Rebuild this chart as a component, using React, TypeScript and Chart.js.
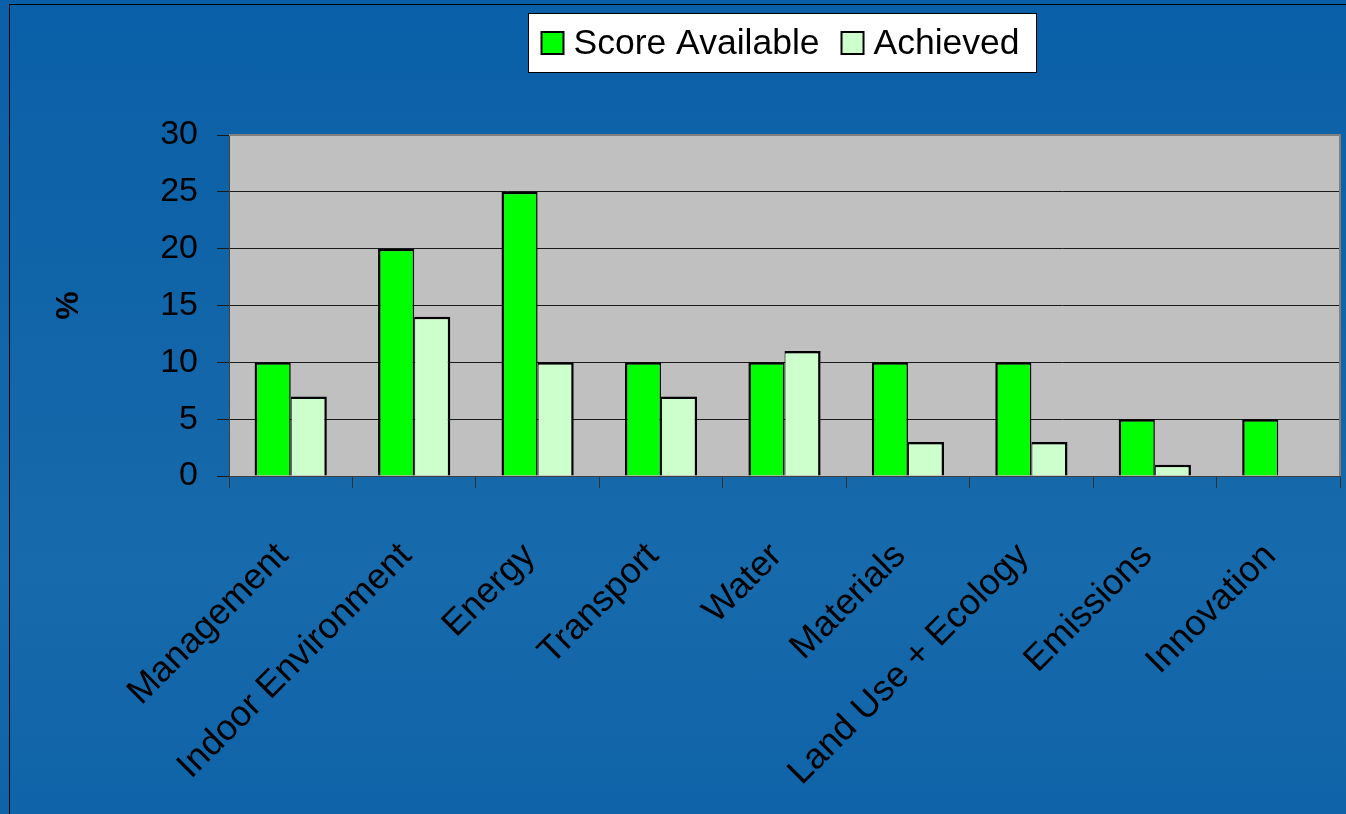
import React, { useEffect, useRef } from "react";
import { Chart, registerables } from "chart.js";

Chart.register(...registerables);

const categories = [
  "Management",
  "Indoor Environment",
  "Energy",
  "Transport",
  "Water",
  "Materials",
  "Land Use + Ecology",
  "Emissions",
  "Innovation",
];
const seriesLabels = ["Score Available", "Achieved"];
const scoreAvailable = [10, 20, 25, 10, 10, 10, 10, 5, 5];
const achieved = [7, 14, 10, 7, 11, 3, 3, 1, 0];
const yTicks = [0, 5, 10, 15, 20, 25, 30];
const yTitle = "%";

const FONT = '"Liberation Sans", Arial, Helvetica, sans-serif';

const plotPlugin = {
  id: "plotDecor",
  beforeDraw(chart: any) {
    const { ctx, chartArea } = chart;
    ctx.save();
    ctx.fillStyle = "#c0c0c0";
    ctx.fillRect(chartArea.left, chartArea.top, chartArea.right - chartArea.left, chartArea.bottom - chartArea.top);
    ctx.restore();
  },
  afterDraw(chart: any) {
    const { ctx, chartArea } = chart;
    ctx.save();
    // top and right border of plot area
    ctx.strokeStyle = "#808080";
    ctx.lineWidth = 2;
    ctx.beginPath();
    ctx.moveTo(chartArea.left, chartArea.top);
    ctx.lineTo(chartArea.right, chartArea.top);
    ctx.lineTo(chartArea.right, chartArea.bottom);
    ctx.stroke();

    // legend
    ctx.font = `35.5px ${FONT}`;
    const ds = chart.data.datasets;
    const box = 22;
    const gapBT = 10;
    const gapItem = 22;
    const padL = 13;
    const padR = 17;
    const widths = ds.map((d: any) => ctx.measureText(d.label).width);
    let total = 0;
    widths.forEach((w: number, i: number) => {
      total += box + gapBT + w + (i > 0 ? gapItem : 0);
    });
    const rectW = Math.round(padL + total + padR);
    const cx = (chartArea.left + chartArea.right) / 2 - 3;
    const rectX = Math.round(cx - rectW / 2) + 0.5;
    const rectY = 13.5;
    const rectH = 59;
    ctx.fillStyle = "#ffffff";
    ctx.fillRect(rectX, rectY, rectW, rectH);
    ctx.strokeStyle = "#000";
    ctx.lineWidth = 1;
    ctx.strokeRect(rectX, rectY, rectW, rectH);
    const cy = rectY + rectH / 2;
    let x = rectX + padL;
    ds.forEach((d: any, i: number) => {
      ctx.fillStyle = d.backgroundColor;
      ctx.fillRect(x, cy - box / 2, box, box);
      ctx.lineWidth = 2;
      ctx.strokeStyle = "#000";
      ctx.strokeRect(x, cy - box / 2, box, box);
      ctx.fillStyle = "#000";
      ctx.textBaseline = "middle";
      ctx.textAlign = "left";
      ctx.fillText(d.label, x + box + gapBT, cy + 1);
      x += box + gapBT + widths[i] + gapItem;
    });
    ctx.restore();
  },
};

export default function App() {
  const ref = useRef<HTMLCanvasElement | null>(null);

  useEffect(() => {
    if (!ref.current) return;
    const chart = new Chart(ref.current, {
      type: "bar",
      data: {
        labels: categories,
        datasets: [
          {
            label: seriesLabels[0],
            data: scoreAvailable,
            backgroundColor: "#00ff00",
            borderColor: "#000000",
            borderWidth: { left: 2.5, top: 2.5, right: 1.5, bottom: 0 } as any,
            borderSkipped: "start",
            categoryPercentage: 0.585,
            barPercentage: 1,
          },
          {
            label: seriesLabels[1],
            data: achieved,
            backgroundColor: "#ccffcc",
            borderColor: "#000000",
            borderWidth: { left: 1, top: 2.5, right: 2.5, bottom: 0 } as any,
            borderSkipped: "start",
            categoryPercentage: 0.585,
            barPercentage: 1,
          },
        ],
      },
      options: {
        responsive: false,
        animation: false,
        devicePixelRatio: 1,
        layout: {
          autoPadding: false,
          padding: { left: 0, right: 6, top: 135, bottom: 0 },
        },
        plugins: {
          legend: { display: false },
          tooltip: { enabled: false },
        },
        scales: {
          x: {
            ticks: {
              color: "#000",
              font: { size: 36, family: FONT },
              minRotation: 45,
              maxRotation: 45,
              autoSkip: false,
              padding: 47,
              labelOffset: -8,
            },
            grid: {
              display: true,
              drawOnChartArea: false,
              drawTicks: true,
              tickLength: 12,
              color: "#303030",
              offset: true,
            },
            border: { color: "#404040", width: 1 },
            afterFit: (s: any) => {
              s.height = 338;
              s.paddingLeft = 0;
              s.paddingRight = 0;
            },
          },
          y: {
            min: 0,
            max: 30,
            afterBuildTicks: (s: any) => {
              s.ticks = yTicks.map((v) => ({ value: v }));
            },
            ticks: {
              color: "#000",
              font: { size: 34, family: FONT },
              padding: 19,
            },
            grid: {
              color: "#1a1a1a",
              lineWidth: 1,
              tickLength: 12,
              drawTicks: true,
            },
            border: { color: "#404040", width: 1 },
            title: {
              display: true,
              text: yTitle,
              color: "#000",
              font: { size: 32, weight: "bold", family: FONT },
              padding: { top: 50, bottom: 0 },
            },
            afterFit: (s: any) => {
              s.width = 229;
              s.paddingTop = 0;
              s.paddingBottom = 0;
            },
          },
        },
      },
      plugins: [plotPlugin],
    });
    return () => chart.destroy();
  }, []);

  return (
    <div
      style={{
        position: "relative",
        width: 1346,
        height: 814,
        overflow: "hidden",
        background: "linear-gradient(180deg, #0a60a8 0%, #1064a8 35%, #176aab 70%, #0f63a8 100%)",
      }}
    >
      <style>{`body{margin:0}`}</style>
      <div
        style={{
          position: "absolute",
          left: 9,
          top: 4,
          width: 1400,
          height: 900,
          borderLeft: "1px solid #000",
          borderTop: "1px solid #000",
          pointerEvents: "none",
        }}
      />
      <canvas
        ref={ref}
        width={1346}
        height={814}
        style={{ position: "absolute", left: 0, top: 0, display: "block" }}
      />
    </div>
  );
}
